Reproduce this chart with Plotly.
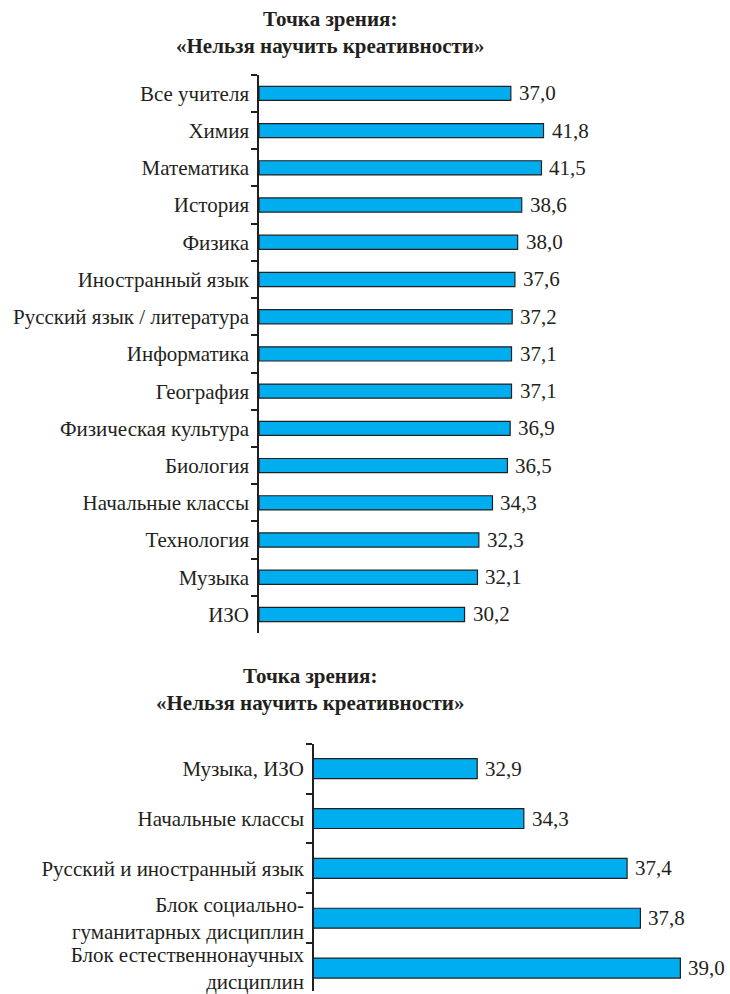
import plotly.graph_objects as go

# Top panel: individual subjects
subjects = [
    "Все учителя", "Химия", "Математика", "История", "Физика",
    "Иностранный язык", "Русский язык / литература", "Информатика",
    "География", "Физическая культура", "Биология", "Начальные классы",
    "Технология", "Музыка", "ИЗО",
]
subject_values = [37.0, 41.8, 41.5, 38.6, 38.0, 37.6, 37.2, 37.1,
                  37.1, 36.9, 36.5, 34.3, 32.3, 32.1, 30.2]

# Bottom panel: subject groups
groups = [
    "Музыка, ИЗО", "Начальные классы", "Русский и иностранный язык",
    "Блок социально-<br>гуманитарных дисциплин",
    "Блок естественнонаучных<br>дисциплин",
]
group_values = [32.9, 34.3, 37.4, 37.8, 39.0]

title_text = "Точка зрения:<br>«Нельзя научить креативности»"

W, H = 730, 994
INK = "#231f20"
BAR = "#00aeef"
FONT = "Liberation Serif"
FS = 21


def fmt(v):
    return f"{v:.1f}".replace(".", ",")


fig = go.Figure()

fig.add_trace(go.Bar(
    x=subject_values, y=subjects, orientation="h",
    marker=dict(color=BAR, line=dict(color=INK, width=1.2)),
    width=0.38, xaxis="x", yaxis="y", hoverinfo="skip",
))
fig.add_trace(go.Bar(
    x=group_values, y=groups, orientation="h",
    marker=dict(color=BAR, line=dict(color=INK, width=1.2)),
    width=0.4, xaxis="x2", yaxis="y2", hoverinfo="skip",
))

annotations = []
for v, c in zip(subject_values, subjects):
    annotations.append(dict(x=v, y=c, xref="x", yref="y", text=fmt(v),
                            showarrow=False, xanchor="left", xshift=6,
                            font=dict(family=FONT, size=FS, color=INK)))
for v, c in zip(group_values, groups):
    annotations.append(dict(x=v, y=c, xref="x2", yref="y2", text=fmt(v),
                            showarrow=False, xanchor="left", xshift=6,
                            font=dict(family=FONT, size=FS, color=INK)))

# Panel titles
annotations.append(dict(x=330 / W, y=1 - 33 / H, xref="paper", yref="paper",
                        text="<b>" + title_text + "</b>", showarrow=False,
                        xanchor="center", yanchor="middle",
                        font=dict(family=FONT, size=FS, color=INK)))
annotations.append(dict(x=310 / W, y=1 - 692 / H, xref="paper", yref="paper",
                        text="<b>" + title_text + "</b>", showarrow=False,
                        xanchor="center", yanchor="middle",
                        font=dict(family=FONT, size=FS, color=INK)))

yaxis_common = dict(
    type="category", showline=True, linecolor=INK, linewidth=1.5,
    ticks="outside", tickson="boundaries", ticklen=6, tickwidth=1.5,
    tickcolor=INK, showgrid=False, zeroline=False, ticklabelstandoff=4,
    tickfont=dict(family=FONT, size=FS, color=INK),
)

fig.update_layout(
    width=W, height=H, margin=dict(l=0, r=0, t=0, b=0),
    paper_bgcolor="white", plot_bgcolor="white", showlegend=False,
    xaxis=dict(domain=[259 / W, 1], range=[0, 69.2], visible=False,
               anchor="y"),
    yaxis=dict(domain=[1 - 635 / H, 1 - 75 / H], range=[14.5, -0.5],
               anchor="x", **yaxis_common),
    xaxis2=dict(domain=[314 / W, 1], range=[28, 40.49], visible=False,
                anchor="y2"),
    yaxis2=dict(domain=[0, 1 - 746 / H], range=[4.46, -0.5],
                anchor="x2", **yaxis_common),
    annotations=annotations,
)

fig.write_html("out.html")
